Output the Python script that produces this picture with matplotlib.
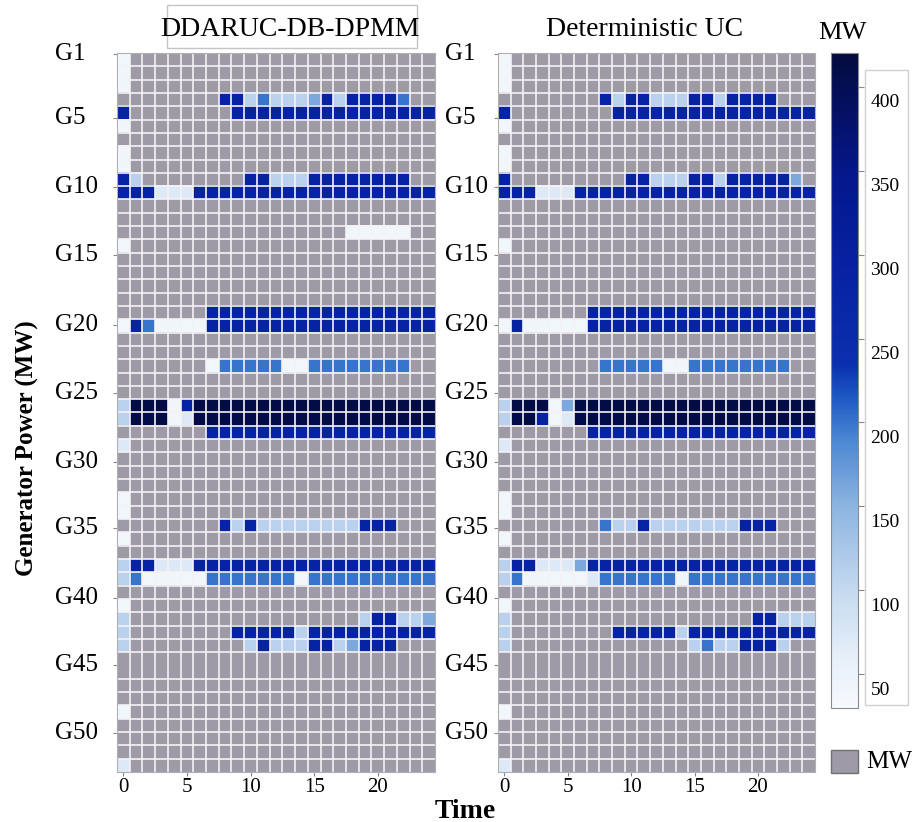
import numpy as np
import matplotlib
matplotlib.use("Agg")
import matplotlib.pyplot as plt
import matplotlib.transforms as mtransforms
from matplotlib.colors import LinearSegmentedColormap, Normalize
from matplotlib.patches import Rectangle

plt.rcParams['font.family'] = ['Liberation Serif', 'DejaVu Serif']

hours = np.arange(25)
gen_labels = ['G1', 'G5', 'G10', 'G15', 'G20', 'G25', 'G30', 'G35', 'G40', 'G45', 'G50']
gen_label_rows = [-0.4, 4.4, 9.6, 14.7, 19.9, 25.0, 30.2, 35.2, 40.4, 45.5, 50.6]

# dispatch level per letter, MW ('.' means the unit is off)
levels = {'.': 0, 'w': 38, 'v': 70, 'l': 110, 'k': 160, 'm': 200, 'd': 285, 'n': 410}

# one string per generator (G1..G54), one letter per hour 0..24
ddaruc_rows = [
    "w" + "." * 24,
    "w" + "." * 24,
    "w" + "." * 24,
    "." * 8 + "ddlmlllkdlddddm" + "..",
    "d" + "." * 8 + "d" * 16,
    "w" + "." * 24,
    "." * 25,
    "w" + "." * 24,
    "w" + "." * 24,
    "dl" + "." * 8 + "ddllldddddddd" + "..",
    "dddvvv" + "d" * 19,
    "." * 25,
    "." * 25,
    "." * 18 + "wwwww" + "..",
    "w" + "." * 24,
    "." * 25,
    "." * 25,
    "." * 25,
    "." * 25,
    "." * 7 + "d" * 18,
    "wdmwwww" + "d" * 18,
    "." * 25,
    "." * 25,
    "." * 7 + "w" + "mmmmm" + "ww" + "m" * 8 + "..",
    "." * 25,
    "." * 25,
    "lnnnwd" + "n" * 19,
    "lnnnwv" + "n" * 19,
    "." * 7 + "d" * 18,
    "v" + "." * 24,
    "." * 25,
    "." * 25,
    "." * 25,
    "w" + "." * 24,
    "w" + "." * 24,
    "." * 8 + "dld" + "l" * 8 + "ddd" + "...",
    "w" + "." * 24,
    "." * 25,
    "lddvvv" + "d" * 19,
    "lmwwwww" + "m" * 7 + "w" + "m" * 10,
    "." * 25,
    "w" + "." * 24,
    "l" + "." * 18 + "lddllk",
    "l" + "." * 8 + "ddddd" + "l" + "d" * 10,
    "l" + "." * 9 + "ldllldd" + "lk" + "ddd" + "...",
    "." * 25,
    "." * 25,
    "." * 25,
    "." * 25,
    "w" + "." * 24,
    "." * 25,
    "." * 25,
    "." * 25,
    "v" + "." * 24,
]

det_rows = [
    "w" + "." * 24,
    "w" + "." * 24,
    "w" + "." * 24,
    "." * 8 + "dlddlllddldddd" + "...",
    "d" + "." * 8 + "d" * 16,
    "w" + "." * 24,
    "." * 25,
    "w" + "." * 24,
    "w" + "." * 24,
    "d" + "." * 9 + "ddllldd" + "l" + "ddddd" + "k" + ".",
    "dddvvv" + "d" * 19,
    "." * 25,
    "." * 25,
    "." * 25,
    "w" + "." * 24,
    "." * 25,
    "." * 25,
    "." * 25,
    "." * 25,
    "." * 7 + "d" * 18,
    "wdwwwww" + "d" * 18,
    "." * 25,
    "." * 25,
    "." * 8 + "mmmmm" + "ww" + "m" * 8 + "..",
    "." * 25,
    "." * 25,
    "lnnnwk" + "n" * 19,
    "lnndwv" + "n" * 19,
    "." * 7 + "d" * 18,
    "v" + "." * 24,
    "." * 25,
    "." * 25,
    "." * 25,
    "w" + "." * 24,
    "w" + "." * 24,
    "." * 8 + "mlld" + "l" * 7 + "ddd" + "...",
    "w" + "." * 24,
    "." * 25,
    "lddvvvk" + "d" * 18,
    "lmwwwwwv" + "m" * 6 + "w" + "m" * 10,
    "." * 25,
    "w" + "." * 24,
    "l" + "." * 19 + "ddlll",
    "l" + "." * 8 + "ddddd" + "l" + "d" * 10,
    "l" + "." * 14 + "lmllddd" + "l" + "..",
    "." * 25,
    "." * 25,
    "." * 25,
    "." * 25,
    "w" + "." * 24,
    "." * 25,
    "." * 25,
    "." * 25,
    "v" + "." * 24,
]


def to_grid(rows):
    for r in rows:
        assert len(r) == len(hours), r
    grid = np.array([[levels[c] for c in r] for r in rows], dtype=float)
    return np.ma.masked_equal(grid, 0)


vmin, vmax = 30, 420
stops = [(30, '#f6f9fd'), (60, '#e6eff9'), (100, '#c4d9ef'), (150, '#8db4e0'),
         (190, '#4a86d2'), (215, '#1d58c4'), (235, '#0a2fae'), (300, '#0620a0'),
         (350, '#05178a'), (420, '#040b3e')]
cmap = LinearSegmentedColormap.from_list(
    'mw', [((v - vmin) / (vmax - vmin), c) for v, c in stops])
off_color = '#9e9aa6'
cmap.set_bad(off_color)
norm = Normalize(vmin, vmax)

fig = plt.figure(figsize=(9.19, 8.22), dpi=100)
W, H = 919, 822


def fbox(x0, y0, x1, y1):
    return [x0 / W, 1 - y1 / H, (x1 - x0) / W, (y1 - y0) / H]


ax_l = fig.add_axes(fbox(117, 53, 435, 772))
ax_r = fig.add_axes(fbox(498, 53, 815, 772))
n_gen = len(ddaruc_rows)

for ax, rows, lab_x in [(ax_l, ddaruc_rows, -0.195), (ax_r, det_rows, -0.167)]:
    im = ax.imshow(to_grid(rows), cmap=cmap, norm=norm, aspect='auto',
                   interpolation='nearest',
                   extent=(-0.5, len(hours) - 0.5, n_gen - 0.5, -0.5))
    ax.set_xticks([0, 5, 10, 15, 20])
    ax.set_xticks(np.arange(0.5, len(hours) - 1, 1), minor=True)
    ax.set_yticks(gen_label_rows)
    ax.set_yticklabels([])
    ax.set_yticks(np.arange(0.5, n_gen - 1, 1), minor=True)
    ax.grid(which='minor', color='#f4f2f6', linewidth=1.2)
    ax.tick_params(which='minor', length=0)
    ax.tick_params(which='major', length=3, color='#888888', labelsize=15, pad=1)
    for s in ax.spines.values():
        s.set_color('#b0b0b0')
    for lab, yr in zip(gen_labels, gen_label_rows):
        ax.text(lab_x, yr, lab, transform=ax.get_yaxis_transform(),
                ha='left', va='center', fontsize=18)

# titles
fig.text(290 / W, 1 - 29 / H, 'DDARUC-DB-DPMM', ha='center', va='center', fontsize=20)
fig.patches.append(Rectangle((167 / W, 1 - 48 / H), 250 / W, 43 / H, fill=False,
                             edgecolor='#c4c4c4', linewidth=1, transform=fig.transFigure))
fig.text(645 / W, 1 - 29 / H, 'Deterministic UC', ha='center', va='center', fontsize=20)

fig.text(27 / W, 1 - 448 / H, 'Generator Power (MW)', rotation=90, ha='center',
         va='center', fontsize=18, fontweight='bold')
fig.text(465 / W, 1 - 811 / H, 'Time', ha='center', va='center', fontsize=20,
         fontweight='bold')

# colorbar
cax = fig.add_axes(fbox(831, 53, 858, 708))
cb = fig.colorbar(im, cax=cax, ticks=[50, 100, 150, 200, 250, 300, 350, 400])
cb.outline.set_edgecolor('#8a8a8a')
cax.tick_params(length=4, color='#888888', labelsize=14, pad=5)
shift = mtransforms.ScaledTranslation(0, -10 / 72, fig.dpi_scale_trans)
for t in cax.get_yticklabels():
    t.set_transform(t.get_transform() + shift)
fig.patches.append(Rectangle((865 / W, 1 - 705 / H), 43 / W, 635 / H, fill=False,
                             edgecolor='#cfcfcf', linewidth=1, transform=fig.transFigure))
fig.text(842 / W, 1 - 33 / H, 'MW', ha='center', va='center', fontsize=19)

# off-state swatch
fig.patches.append(Rectangle((831 / W, 1 - 773 / H), 27 / W, 23 / H, facecolor=off_color,
                             edgecolor='#707070', linewidth=1, transform=fig.transFigure))
fig.text(866 / W, 1 - 762 / H, 'MW', ha='left', va='center', fontsize=18)

fig.savefig('out.png', dpi=100)
